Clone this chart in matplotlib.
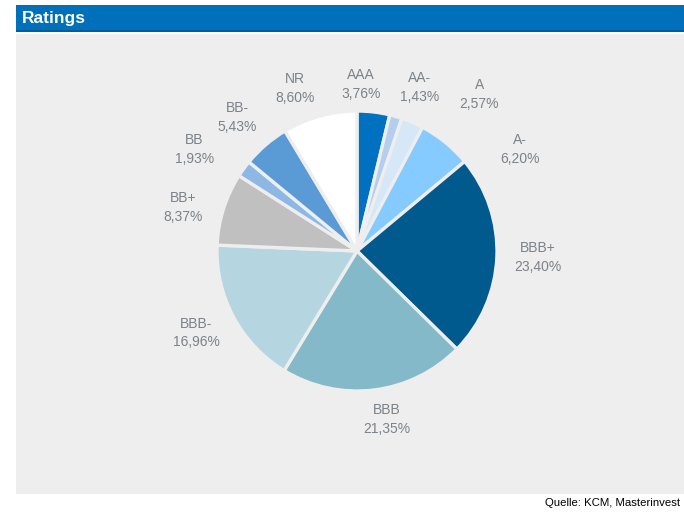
import matplotlib
matplotlib.use("Agg")
import matplotlib.pyplot as plt
from matplotlib.patches import Rectangle
import numpy as np

# ---- data ----
categories = ["AAA", "AA-", "A", "A-", "BBB+", "BBB", "BBB-", "BB+", "BB", "BB-", "NR"]
values = [3.76, 1.43, 2.57, 6.20, 23.40, 21.35, 16.96, 8.37, 1.93, 5.43, 8.60]
colors = ["#0070C0", "#B4CFEE", "#D6E7F7", "#85CBFF", "#005A8E", "#84B9CA",
          "#B5D5E0", "#C0C0C0", "#8DB8E6", "#5B9BD5", "#FFFFFF"]
title = "Ratings"
source = "Quelle: KCM, Masterinvest"

# label layout: (angle clockwise from top in degrees, radius factor)
label_layout = [(1.4, 1.19), (21, 1.25), (38, 1.42), (58, 1.37), (92, 1.29),
                (170, 1.22), (243, 1.29), (284, 1.28), (302, 1.37), (318, 1.28),
                (339, 1.24)]

W, H = 684, 516
bg = "#EDEEED"
fig = plt.figure(figsize=(W / 100, H / 100), dpi=100)
fig.patch.set_facecolor("white")

# header bar
fig.add_artist(Rectangle((16 / W, 1 - 31 / H), 1 - 16 / W, 26 / H, zorder=-5,
                         transform=fig.transFigure, facecolor="#0070BA", edgecolor="none"))
fig.add_artist(Rectangle((16 / W, 1 - 32 / H), 1 - 16 / W, 1.5 / H, zorder=-5,
                         transform=fig.transFigure, facecolor="#005E9E", edgecolor="none"))
fig.text(22 / W, 1 - 19 / H, title, color="white", fontsize=12.5, fontweight="bold",
         family=["Liberation Sans Narrow", "Liberation Sans", "DejaVu Sans"],
         ha="left", va="center")
# grey panel
fig.add_artist(Rectangle((16 / W, 1 - 494 / H), 1 - 16 / W, 460 / H, zorder=-5,
                         transform=fig.transFigure, facecolor=bg, edgecolor="none"))

cx, cy, r = 357, 251, 140
ax = fig.add_axes([(cx - r) / W, (H - cy - r) / H, 2 * r / W, 2 * r / H])
ax.set_zorder(2)
ax.patch.set_visible(False)
ax.pie(values, colors=colors, startangle=90, counterclock=False,
       wedgeprops=dict(edgecolor=bg, linewidth=2.4))
ax.set_xlim(-1, 1)
ax.set_ylim(-1, 1)
ax.axis("off")

for cat, val, (ang, rf) in zip(categories, values, label_layout):
    a = np.deg2rad(ang)
    x, y = rf * np.sin(a), rf * np.cos(a)
    txt = f"{cat}\n{val:.2f}%".replace(".", ",")
    ax.text(x, y, txt, ha="center", va="center", fontsize=10, color="#7D8289",
            family=["Liberation Sans", "DejaVu Sans"], linespacing=1.45, clip_on=False)

fig.text(1 - 4 / W, 1 - 503 / H, source, fontsize=8.2, color="black",
         family=["Liberation Sans Narrow", "Liberation Sans", "DejaVu Sans"],
         ha="right", va="center")

fig.savefig("out.png", dpi=100, facecolor="white")
